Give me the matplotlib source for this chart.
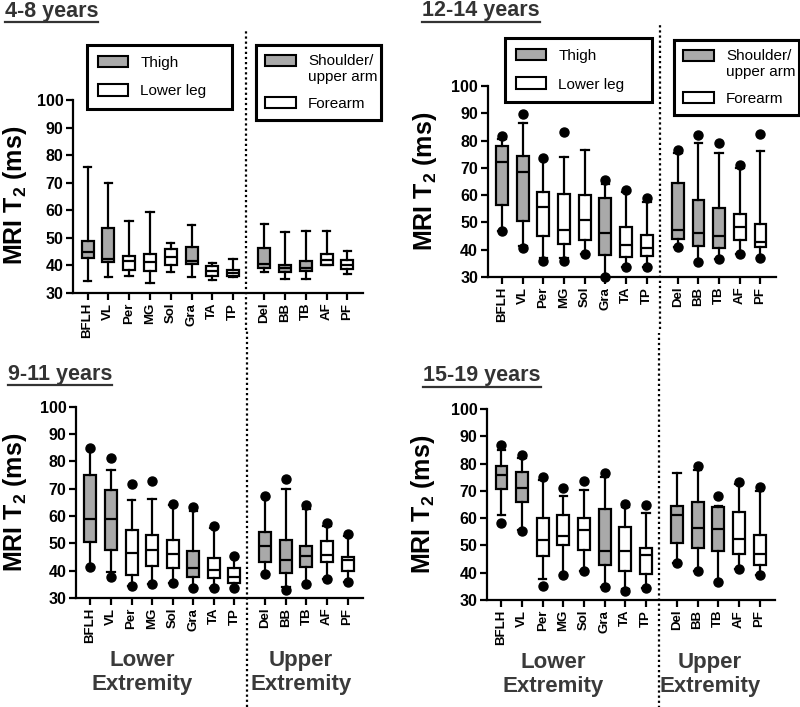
import numpy as np
import matplotlib
matplotlib.use("Agg")
import matplotlib.pyplot as plt
from matplotlib.patches import Patch
from matplotlib.lines import Line2D
from matplotlib.transforms import blended_transform_factory

plt.rcParams['font.family'] = ['Liberation Sans', 'DejaVu Sans']
plt.rcParams['font.weight'] = 'bold'
plt.rcParams['mathtext.fontset'] = 'custom'
plt.rcParams['mathtext.rm'] = 'Liberation Sans:bold'
plt.rcParams['mathtext.bf'] = 'Liberation Sans:bold'
plt.rcParams['mathtext.it'] = 'Liberation Sans:bold'

# ---------------- data ----------------
muscles = ['BFLH', 'VL', 'Per', 'MG', 'Sol', 'Gra', 'TA', 'TP',
           'Del', 'BB', 'TB', 'AF', 'PF']
region = ['Thigh', 'Thigh', 'Lower leg', 'Lower leg', 'Lower leg', 'Thigh',
          'Lower leg', 'Lower leg',
          'Shoulder/upper arm', 'Shoulder/upper arm', 'Shoulder/upper arm',
          'Forearm', 'Forearm']
n_lower = 8
nan = np.nan

# 4-8 years
a_whislo = [34.5, 35.7, 36.3, 33.6, 37.5, 35.8, 34.6, 35.8, 37.5, 35.2, 35.2, 40.0, 37.0]
a_q1 = [42.7, 41.1, 38.4, 37.8, 40.0, 40.5, 36.0, 36.0, 39.0, 37.6, 37.8, 40.3, 38.7]
a_med = [44.8, 42.3, 41.5, 41.1, 43.0, 41.7, 37.8, 37.2, 40.5, 39.0, 39.0, 41.8, 40.3]
a_q3 = [48.7, 53.5, 43.3, 44.2, 46.0, 46.5, 39.7, 38.4, 46.3, 40.3, 41.5, 44.1, 41.8]
a_whishi = [75.8, 70.0, 56.0, 59.5, 48.3, 54.5, 40.9, 42.3, 55.0, 52.0, 52.5, 52.5, 45.4]
a_dothi = [nan] * 13
a_dotlo = [nan] * 13

# 12-14 years
b_whislo = [46.7, 41.5, 37.0, 37.0, 38.5, 30.5, 33.6, 33.6, 41.0, 35.6, 36.6, 38.5, 36.8]
b_q1 = [56.5, 50.7, 45.0, 42.0, 43.6, 38.0, 37.2, 37.8, 44.0, 41.2, 40.6, 43.6, 41.0]
b_med = [72.3, 68.3, 55.5, 47.3, 51.0, 46.0, 41.8, 40.5, 47.2, 46.0, 45.2, 48.2, 42.8]
b_q3 = [78.0, 74.4, 61.3, 60.3, 60.2, 59.0, 48.5, 45.5, 64.5, 58.2, 55.2, 53.0, 49.3]
b_whishi = [80.5, 86.3, 73.0, 74.0, 76.7, 64.0, 61.0, 57.5, 75.5, 79.2, 75.5, 70.0, 76.3]
b_dothi = [81.5, 89.8, 73.5, 83.0, nan, 65.5, 62.0, 59.0, 76.5, 82.2, 79.0, 71.0, 82.3]
b_dotlo = [46.7, 40.5, 35.8, 36.0, 38.5, 30.0, 33.6, 33.6, 41.0, 35.6, 36.6, 38.5, 36.8]

# 9-11 years
c_whislo = [41.3, 39.5, 34.5, 35.0, 35.3, 33.7, 33.7, 33.6, 38.6, 34.0, 35.0, 36.8, 35.8]
c_q1 = [50.5, 47.5, 38.5, 41.7, 40.8, 37.8, 37.3, 35.6, 43.3, 39.0, 41.2, 43.3, 39.7]
c_med = [59.0, 59.0, 46.3, 47.6, 46.2, 41.0, 40.2, 37.5, 49.2, 43.8, 45.3, 45.8, 44.0]
c_q3 = [75.0, 69.5, 55.0, 53.0, 51.3, 47.3, 44.8, 40.8, 54.2, 51.3, 49.0, 51.0, 45.0]
c_whishi = [84.0, 77.0, 66.0, 66.2, 64.0, 62.0, 55.5, 45.0, 67.0, 69.8, 62.5, 56.5, 52.5]
c_dothi = [85.0, 81.3, 71.8, 72.8, 64.3, 63.4, 56.5, 45.5, 67.2, 73.4, 64.0, 57.5, 53.3]
c_dotlo = [41.3, 37.5, 34.3, 35.0, 35.3, 33.7, 33.7, 33.6, 38.6, 33.0, 35.0, 36.8, 35.8]

# 15-19 years
d_whislo = [61.0, 55.5, 37.8, 39.0, 40.5, 34.8, 34.0, 34.5, 43.5, 40.5, 36.6, 41.5, 39.0]
d_q1 = [70.7, 66.0, 46.2, 50.1, 48.2, 42.8, 40.6, 39.4, 51.0, 49.0, 48.0, 47.0, 43.0]
d_med = [75.9, 71.0, 52.1, 53.6, 55.7, 47.8, 47.8, 46.5, 61.2, 56.5, 56.0, 52.2, 46.8]
d_q3 = [79.0, 77.0, 60.0, 61.3, 59.9, 63.2, 56.8, 49.2, 64.4, 65.8, 64.0, 62.3, 54.0]
d_whishi = [85.0, 82.0, 74.0, 68.3, 70.4, 75.0, 64.0, 61.8, 76.6, 77.5, 64.5, 72.5, 70.0]
d_dothi = [86.7, 83.0, 75.0, 70.9, 73.7, 76.7, 65.3, 65.0, nan, 79.2, 68.0, 73.2, 71.5]
d_dotlo = [58.2, 55.3, 35.0, 39.0, 40.5, 34.8, 33.2, 34.5, 43.5, 40.5, 36.6, 41.5, 39.0]

yticks = [30, 40, 50, 60, 70, 80, 90, 100]
titles = ['4-8 years', '12-14 years', '9-11 years', '15-19 years']

# ---------------- style ----------------
GRAY = '#a9a9a9'
fill_map = {'Thigh': GRAY, 'Lower leg': 'white',
            'Shoulder/upper arm': GRAY, 'Forearm': 'white'}
LW = 1.6

pos = np.r_[np.arange(n_lower), n_lower + 0.5 + np.arange(len(muscles) - n_lower)]
divider_x = n_lower - 1 + 0.63

fig = plt.figure(figsize=(8.0, 7.07), dpi=100)

axes_rects = [
    (0.0913, 0.5856, 0.3625, 0.2730),
    (0.6096, 0.6082, 0.3604, 0.2702),
    (0.0950, 0.1542, 0.3588, 0.2706),
    (0.6088, 0.1513, 0.3600, 0.2702),
]
panels = [
    (a_whislo, a_q1, a_med, a_q3, a_whishi, a_dothi, a_dotlo),
    (b_whislo, b_q1, b_med, b_q3, b_whishi, b_dothi, b_dotlo),
    (c_whislo, c_q1, c_med, c_q3, c_whishi, c_dothi, c_dotlo),
    (d_whislo, d_q1, d_med, d_q3, d_whishi, d_dothi, d_dotlo),
]

axes = []
for i, (rect, data) in enumerate(zip(axes_rects, panels)):
    ax = fig.add_axes(rect)
    axes.append(ax)
    wl, q1, md, q3, wh, dh, dl = data
    stats = []
    for k in range(len(muscles)):
        fl = [v for v in (dh[k], dl[k]) if not np.isnan(v)]
        stats.append(dict(whislo=wl[k], q1=q1[k], med=md[k], q3=q3[k],
                          whishi=wh[k], fliers=fl, label=muscles[k]))
    bp = ax.bxp(stats, positions=pos, widths=0.58, patch_artist=True,
                showfliers=True, capwidths=0.36,
                boxprops=dict(linewidth=LW, edgecolor='black'),
                medianprops=dict(color='black', linewidth=LW),
                whiskerprops=dict(color='black', linewidth=LW),
                capprops=dict(color='black', linewidth=LW),
                flierprops=dict(marker='o', markerfacecolor='black',
                                markeredgecolor='black', markersize=6.5))
    for patch, reg in zip(bp['boxes'], region):
        patch.set_facecolor(fill_map[reg])
    for f in bp['fliers']:
        f.set_clip_on(False)
        f.set_zorder(5)

    ax.set_ylim(30, 100)
    ax.set_xlim(-0.7, 13.25)
    ax.set_yticks(yticks)
    ax.set_yticklabels([str(t) for t in yticks], fontsize=11.5, fontweight='bold')
    ax.set_xticks(pos)
    ax.set_xticklabels(muscles, rotation=90, fontsize=9.5, fontweight='bold')
    for s in ['top', 'right']:
        ax.spines[s].set_visible(False)
    for s in ['left', 'bottom']:
        ax.spines[s].set_linewidth(LW)
    ax.tick_params(axis='both', width=LW, length=5, direction='out', pad=2)

    # dotted divider
    trans = blended_transform_factory(ax.transData, ax.transAxes)
    if i == 0:
        y0, y1 = -0.19, 1.363
    elif i == 1:
        y0, y1 = -0.27, 1.33
    else:
        y0, y1 = -0.57, 1.40
    ax.plot([divider_x, divider_x], [y0, y1], transform=trans, clip_on=False,
            color='black', lw=1.6, linestyle=(0, (1, 1.3)))

# legends
leg_specs = {
    0: [((0.048, 0.9, 0.50, 0.385), ['Thigh', 'Lower leg'], [GRAY, 'white']),
        ((0.631, 0.9, 0.431, 0.385), ['Shoulder/\nupper arm', 'Forearm'], [GRAY, 'white'])],
    1: [((0.060, 0.9, 0.51, 0.351), ['Thigh', 'Lower leg'], [GRAY, 'white']),
        ((0.647, 0.9, 0.434, 0.341), ['Shoulder/\nupper arm', 'Forearm'], [GRAY, 'white'])],
}
for i, specs in leg_specs.items():
    ax = axes[i]
    for bbox, labels, cols in specs:
        handles = [Patch(facecolor=c, edgecolor='black', linewidth=1.5) for c in cols]
        two_line = '\n' in labels[0]
        leg = ax.legend(handles, labels, loc='upper left', bbox_to_anchor=bbox,
                        mode='expand', frameon=True, fancybox=False,
                        edgecolor='black', framealpha=1,
                        prop=dict(family='Liberation Sans', weight='normal', size=11),
                        handlelength=2.0, handleheight=0.8, handletextpad=0.8,
                        borderpad=0.6 if two_line else 0.7,
                        labelspacing=0.8 if two_line else 0.95, borderaxespad=0)
        leg.get_frame().set_linewidth(2.2)
        if two_line:
            h = leg.legend_handles[0]
            h.set_y(h.get_y() + 6.5)
        ax.add_artist(leg)

# y labels
ylab_pos = [(0.019, 0.723), (0.531, 0.743), (0.019, 0.290), (0.529, 0.286)]
for (x, y) in ylab_pos:
    fig.text(x, y, r'MRI T$_\mathbf{2}$ (ms)', rotation=90, ha='center', va='center',
             fontsize=18, fontweight='bold')

# extremity labels
for ax, (xl, xu) in zip(axes[2:], [(0.23, 0.784), (0.229, 0.774)]):
    ax.text(xl, -0.39, 'Lower\nExtremity', transform=ax.transAxes, ha='center',
            va='center', fontsize=16, fontweight='bold', color='#3a3a3a',
            linespacing=1.15)
    ax.text(xu, -0.39, 'Upper\nExtremity', transform=ax.transAxes, ha='center',
            va='center', fontsize=16, fontweight='bold', color='#3a3a3a',
            linespacing=1.15)

# titles (underlined)
title_pos = [(0.006, 0.976), (0.5275, 0.977), (0.010, 0.463), (0.529, 0.461)]
title_texts = []
for (x, y), t in zip(title_pos, titles):
    title_texts.append(fig.text(x, y, t, ha='left', va='baseline', fontsize=15.5,
                                fontweight='bold', color='#333333'))
fig.canvas.draw()
inv = fig.transFigure.inverted()
for t in title_texts:
    bb = t.get_window_extent()
    (x0, y0), (x1, _) = inv.transform([(bb.x0, bb.y0 - 0.5), (bb.x1, bb.y0)])
    fig.add_artist(Line2D([x0, x1], [y0, y0], transform=fig.transFigure,
                          color='#333333', lw=1.6))

fig.savefig('out.png', dpi=100)
